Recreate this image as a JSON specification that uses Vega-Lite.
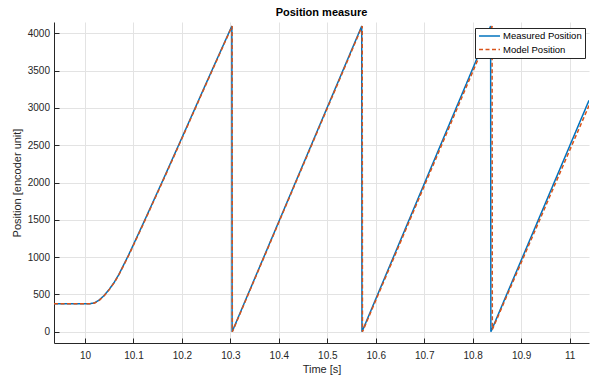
{
  "$schema": "https://vega.github.io/schema/vega-lite/v6.json",
  "autosize": "none",
  "width": 535,
  "height": 321,
  "padding": {"left": 54, "top": 22, "right": 17, "bottom": 36},
  "background": "white",
  "title": {"text": "Position measure", "fontSize": 11, "fontWeight": "bold", "font": "Liberation Sans", "color": "#000000", "offset": 4, "anchor": "middle"},
  "config": {
    "font": "Liberation Sans",
    "view": {"stroke": null},
    "axis": {
      "domainColor": "#262626",
      "domainWidth": 1,
      "tickColor": "#262626",
      "tickSize": -5,
      "tickWidth": 1,
      "gridColor": "#e3e3e3",
      "gridWidth": 1,
      "labelFont": "Liberation Sans",
      "labelFontSize": 10,
      "labelColor": "#262626",
      "titleFont": "Liberation Sans",
      "titleFontSize": 11,
      "titleFontWeight": "normal",
      "titleColor": "#262626"
    },
    "legend": {
      "orient": "none",
      "legendX": 421,
      "legendY": 6,
      "strokeColor": "#262626",
      "fillColor": "white",
      "padding": 3,
      "symbolType": "stroke",
      "symbolSize": 440,
      "symbolStrokeWidth": 1.5,
      "labelFont": "Liberation Sans",
      "labelFontSize": 9.5,
      "labelColor": "#000000",
      "labelOffset": 2,
      "clipHeight": 10,
      "rowPadding": 3.5,
      "title": null
    }
  },
  "data": {
    "values": [
      {"t": 9.936, "v": 375, "series": "Measured Position"},
      {"t": 10.0, "v": 375, "series": "Measured Position"},
      {"t": 10.01, "v": 376, "series": "Measured Position"},
      {"t": 10.02, "v": 388, "series": "Measured Position"},
      {"t": 10.03, "v": 430, "series": "Measured Position"},
      {"t": 10.04, "v": 490, "series": "Measured Position"},
      {"t": 10.05, "v": 570, "series": "Measured Position"},
      {"t": 10.06, "v": 660, "series": "Measured Position"},
      {"t": 10.07, "v": 770, "series": "Measured Position"},
      {"t": 10.08, "v": 900, "series": "Measured Position"},
      {"t": 10.09, "v": 1030, "series": "Measured Position"},
      {"t": 10.10, "v": 1170, "series": "Measured Position"},
      {"t": 10.12, "v": 1450, "series": "Measured Position"},
      {"t": 10.14, "v": 1735, "series": "Measured Position"},
      {"t": 10.16, "v": 2020, "series": "Measured Position"},
      {"t": 10.20, "v": 2600, "series": "Measured Position"},
      {"t": 10.25, "v": 3330, "series": "Measured Position"},
      {"t": 10.303, "v": 4095, "series": "Measured Position"},
      {"t": 10.3035, "v": 0, "series": "Measured Position"},
      {"t": 10.571, "v": 4095, "series": "Measured Position"},
      {"t": 10.5715, "v": 0, "series": "Measured Position"},
      {"t": 10.837, "v": 4095, "series": "Measured Position"},
      {"t": 10.8375, "v": 0, "series": "Measured Position"},
      {"t": 11.04, "v": 3100, "series": "Measured Position"},
      {"t": 9.936, "v": 375, "series": "Model Position"},
      {"t": 10.0, "v": 375, "series": "Model Position"},
      {"t": 10.01, "v": 376, "series": "Model Position"},
      {"t": 10.02, "v": 385, "series": "Model Position"},
      {"t": 10.03, "v": 425, "series": "Model Position"},
      {"t": 10.04, "v": 485, "series": "Model Position"},
      {"t": 10.05, "v": 565, "series": "Model Position"},
      {"t": 10.06, "v": 655, "series": "Model Position"},
      {"t": 10.07, "v": 765, "series": "Model Position"},
      {"t": 10.08, "v": 893, "series": "Model Position"},
      {"t": 10.09, "v": 1022, "series": "Model Position"},
      {"t": 10.10, "v": 1160, "series": "Model Position"},
      {"t": 10.12, "v": 1440, "series": "Model Position"},
      {"t": 10.14, "v": 1725, "series": "Model Position"},
      {"t": 10.16, "v": 2010, "series": "Model Position"},
      {"t": 10.20, "v": 2590, "series": "Model Position"},
      {"t": 10.25, "v": 3320, "series": "Model Position"},
      {"t": 10.3035, "v": 4095, "series": "Model Position"},
      {"t": 10.304, "v": 0, "series": "Model Position"},
      {"t": 10.572, "v": 4095, "series": "Model Position"},
      {"t": 10.5725, "v": 0, "series": "Model Position"},
      {"t": 10.840, "v": 4095, "series": "Model Position"},
      {"t": 10.8405, "v": 30, "series": "Model Position"},
      {"t": 11.04, "v": 3030, "series": "Model Position"}
    ]
  },
  "mark": {"type": "line", "strokeWidth": 1.5, "clip": true},
  "encoding": {
    "x": {
      "field": "t", "type": "quantitative",
      "scale": {"domain": [9.936, 11.04], "nice": false, "zero": false},
      "axis": {"title": "Time [s]", "values": [10, 10.1, 10.2, 10.3, 10.4, 10.5, 10.6, 10.7, 10.8, 10.9, 11], "format": "~g", "labelPadding": 12, "titlePadding": 3}
    },
    "y": {
      "field": "v", "type": "quantitative",
      "scale": {"domain": [-150, 4150], "nice": false, "zero": false},
      "axis": {"title": "Position [encoder unit]", "values": [0, 500, 1000, 1500, 2000, 2500, 3000, 3500, 4000], "format": "d", "labelPadding": 9.5, "titlePadding": 5}
    },
    "color": {
      "field": "series", "type": "nominal",
      "scale": {"domain": ["Measured Position", "Model Position"], "range": ["#0072BD", "#D95319"]},
      "legend": {"title": null}
    },
    "strokeDash": {
      "field": "series", "type": "nominal",
      "scale": {"domain": ["Measured Position", "Model Position"], "range": [[1, 0], [4, 2.5]]},
      "legend": {"title": null}
    }
  }
}
